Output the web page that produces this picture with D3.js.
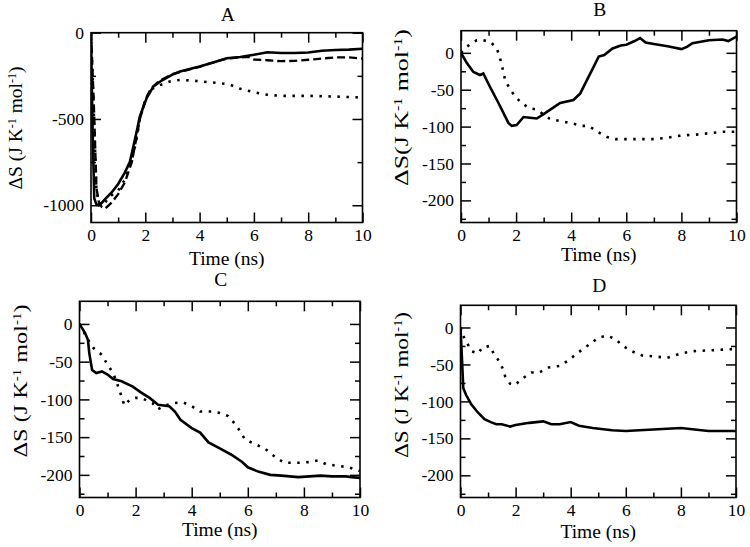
<!DOCTYPE html>
<html>
<head>
	<title>Entropy</title>
	<meta charset='utf-8'>
	<style>
		body {
			margin: 0;
			background: #fff;
		}

		svg {
			font-family: 'Liberation Serif', 'Times New Roman', serif;
		}

		.frame {
			fill: none;
			stroke: #000;
			stroke-width: 1.6px;
		}

		.tick > line {
			stroke: #000;
			stroke-width: 1.5px;
		}

		.tick > text {
			fill: #000;
			font-size: 17.5px;
		}

		.domain {
			display: none;
		}

		.line {
			fill: none;
			stroke: #000;
		}

		.solid {
			stroke-width: 2.6px;
		}

		.dashed {
			stroke-width: 2.4px;
			stroke-dasharray: 8, 4;
		}

		.dotted {
			stroke-width: 2.6px;
			stroke-dasharray: 2.5, 6.5;
		}

		.label {
			font-size: 19.5px;
		}
	</style>
</head>
<body>

<script src='https://cdnjs.cloudflare.com/ajax/libs/d3/7.8.5/d3.min.js'></script>
<script>
	'use strict';

	// [время (нс), ΔS]
	const aSolid = [[0, 0], [0.05, -500], [0.12, -960], [0.2, -995], [0.27, -1000], [0.4, -985], [0.52, -965],
		[0.76, -926], [1.0, -877], [1.25, -809], [1.43, -750], [1.56, -660], [1.7, -560], [1.8, -485], [2.05, -379],
		[2.3, -311], [2.6, -277], [3.0, -243], [3.28, -225], [3.6, -212], [4.0, -196], [4.5, -173], [5.0, -148],
		[5.5, -141], [6.0, -128], [6.5, -113], [7.0, -118], [7.5, -118], [8.0, -115], [8.5, -105], [9.0, -100],
		[9.5, -98], [10, -93]];
	const aDashed = [[0, 0], [0.1, -400], [0.2, -900], [0.3, -990], [0.4, -1010], [0.52, -1020], [0.76, -985],
		[1.0, -936], [1.25, -867], [1.5, -750], [1.62, -653], [1.8, -500], [2.0, -390], [2.2, -325], [2.5, -282],
		[3.0, -240], [3.5, -218], [4.0, -198], [4.5, -172], [5.0, -150], [5.5, -143], [5.8, -140], [6.0, -155],
		[6.5, -160], [7.0, -165], [7.5, -163], [8.0, -157], [8.5, -150], [9.0, -143], [9.5, -143], [10, -150]];
	const aDotted = [[0, 0], [0.1, -450], [0.2, -920], [0.3, -985], [0.45, -1005], [0.64, -955], [1.0, -916],
		[1.25, -850], [1.5, -740], [1.65, -640], [1.8, -500], [2.0, -390], [2.2, -330], [2.42, -311], [2.9, -283],
		[3.3, -273], [3.9, -280], [4.7, -292], [5.1, -300], [5.5, -325], [6.0, -345], [6.5, -360], [7.0, -366],
		[8.0, -366], [9.0, -370], [10, -376]];

	const bSolid = [[0, 0], [0.2, -13], [0.45, -26], [0.69, -30], [0.81, -28], [1.05, -46], [1.36, -68],
		[1.72, -95], [1.84, -99], [2.02, -98], [2.27, -87], [2.5, -88], [2.75, -89], [3.0, -83], [3.24, -77],
		[3.6, -68], [4.08, -64], [4.33, -55], [4.57, -37], [4.8, -20], [5.0, -5], [5.2, -3], [5.5, 6], [5.8, 10],
		[6.0, 11], [6.3, 16], [6.5, 20], [6.7, 14], [7.0, 12], [7.5, 9], [8.0, 5], [8.2, 8], [8.4, 13], [9.0, 17],
		[9.5, 18], [9.7, 16], [10, 22]];
	const bDotted = [[0, 0], [0.2, 8], [0.39, 13], [0.57, 17], [0.81, 17], [1.05, 15], [1.27, 8], [1.39, -3],
		[1.52, -23], [1.6, -37], [1.76, -48], [1.96, -59], [2.2, -68], [2.48, -75], [2.75, -77], [3.24, -90],
		[3.54, -92], [3.82, -94], [4.08, -96], [4.33, -99], [4.63, -99], [5.0, -108], [5.3, -114], [5.6, -117],
		[6.0, -117], [6.5, -117], [7.0, -117], [7.5, -115], [8.0, -112], [8.5, -111], [9.0, -109], [9.5, -107],
		[10, -107]];

	const cSolid = [[0, 0], [0.2, -12], [0.3, -21], [0.35, -39], [0.45, -61], [0.6, -65], [0.8, -63], [1.0, -67],
		[1.2, -73], [1.5, -76], [1.9, -83], [2.2, -91], [2.5, -98], [2.8, -107], [3.2, -109], [3.4, -116],
		[3.6, -127], [4.0, -138], [4.3, -144], [4.6, -157], [5.0, -165], [5.4, -173], [5.8, -183], [6.0, -190],
		[6.4, -196], [6.8, -200], [7.2, -201], [7.8, -203], [8.2, -202], [8.6, -201], [9.0, -202], [9.5, -202],
		[9.7, -203], [10, -204]];
	const cDotted = [[0, 0], [0.3, -21], [0.5, -32], [0.8, -41], [1.0, -54], [1.2, -65], [1.4, -85], [1.6, -108],
		[1.8, -100], [2.0, -98], [2.2, -98], [2.6, -105], [2.8, -113], [3.0, -109], [3.3, -105], [3.7, -104],
		[4.0, -109], [4.3, -116], [4.7, -116], [5.0, -118], [5.3, -122], [5.6, -135], [5.9, -153], [6.3, -160],
		[6.6, -165], [7.0, -177], [7.3, -184], [7.8, -184], [8.2, -183], [8.5, -181], [8.8, -186], [9.2, -188],
		[9.6, -190], [10, -195]];

	const dSolid = [[0, 0], [0.05, -40], [0.1, -82], [0.2, -91], [0.39, -104], [0.63, -115], [0.87, -124],
		[1.1, -128], [1.3, -131], [1.5, -131], [1.8, -134], [2.0, -132], [2.5, -129], [3.0, -127], [3.3, -131],
		[3.6, -131], [4.0, -128], [4.3, -133], [4.8, -136], [5.5, -139], [6.0, -140], [7.0, -138], [8.0, -136],
		[8.5, -138], [9.0, -140], [10, -140]];
	const dDotted = [[0, 0], [0.08, -10], [0.24, -21], [0.39, -32], [0.65, -35], [0.79, -27], [1.07, -25],
		[1.2, -35], [1.39, -45], [1.54, -56], [1.62, -66], [1.8, -76], [1.96, -78], [2.33, -67], [2.57, -61],
		[2.85, -61], [3.2, -54], [3.6, -52], [3.9, -45], [4.2, -36], [4.6, -25], [5.0, -14], [5.3, -11],
		[5.6, -15], [5.9, -25], [6.2, -32], [6.6, -38], [7.0, -39], [7.5, -41], [8.0, -35], [8.5, -32],
		[9.0, -31], [9.5, -30], [10, -29]];

	const titles = ['A', 'B', 'C', 'D'];
	const xTicks = [0, 2, 4, 6, 8, 10];
	const xMinor = [1, 3, 5, 7, 9];
	const yTicksA = [0, -500, -1000];
	const yMinorA = [-250, -750];
	const yTicks = [0, -50, -100, -150, -200];
	const yMinor = [-25, -75, -125, -175, -225];

	const panels = [
		{title: titles[0], left: 91, top: 32.7, right: 362.5, bottom: 222.5, domain: [-1100, 0],
			ticks: yTicksA, minor: yMinorA, series: [[aSolid, 'solid'], [aDashed, 'dashed'], [aDotted, 'dotted']],
			titleY: 20.5, xLabelY: 265, yLabelX: 22, yLabelY: 128, yLabelLen: 123, ds: 'ΔS ('},
		{title: titles[1], left: 461, top: 30.7, right: 736.5, bottom: 222.5, domain: [-230, 30],
			ticks: yTicks, minor: yMinor, series: [[bSolid, 'solid'], [bDotted, 'dotted']],
			titleY: 16, xLabelY: 261, yLabelX: 408, yLabelY: 107.5, yLabelLen: 157, ds: 'ΔS('},
		{title: titles[2], left: 79.5, top: 301.3, right: 360, bottom: 497.5, domain: [-230, 30],
			ticks: yTicks, minor: yMinor, series: [[cSolid, 'solid'], [cDotted, 'dotted']],
			titleY: 285.5, xLabelY: 536, yLabelX: 27, yLabelY: 381, yLabelLen: 153, ds: 'ΔS ('},
		{title: titles[3], left: 460.5, top: 305.3, right: 736, bottom: 497.5, domain: [-230, 30],
			ticks: yTicks, minor: yMinor, series: [[dSolid, 'solid'], [dDotted, 'dotted']],
			titleY: 291.5, xLabelY: 538, yLabelX: 408, yLabelY: 385, yLabelLen: 146, ds: 'ΔS ('}
	];

	const svg = d3.select('body').append('svg')
		.attr('width', 750)
		.attr('height', 547);

	const fmt = function(d) {return String(d);};

	// ось без шрифта d3 по умолчанию
	function addAxis(g, axis, tx, ty) {
		g.append('g')
			.attr('transform', 'translate(' + tx + ',' + ty + ')')
			.call(axis)
			.attr('font-family', null)
			.attr('font-size', null);
	}

	panels.forEach(function(p) {
		const x = d3.scaleLinear().domain([0, 10]).range([p.left, p.right]);
		const y = d3.scaleLinear().domain(p.domain).range([p.bottom, p.top]);
		const g = svg.append('g');

		const line = d3.line()
			.x(function(d) {return x(d[0]);})
			.y(function(d) {return y(d[1]);});

		// обрезаем линии по рамке
		const clipId = 'clip-' + p.title;
		g.append('clipPath').attr('id', clipId)
			.append('rect')
			.attr('x', p.left).attr('y', p.top)
			.attr('width', p.right - p.left).attr('height', p.bottom - p.top);

		// точечные и штриховые снизу, сплошная сверху
		p.series.slice().reverse().forEach(function(s) {
			g.append('path')
				.datum(s[0])
				.attr('class', 'line ' + s[1])
				.attr('clip-path', 'url(#' + clipId + ')')
				.attr('d', line);
		});

		// засечки внутрь, на всех четырёх сторонах
		addAxis(g, d3.axisBottom(x).tickValues(xTicks).tickSize(-10).tickPadding(6).tickFormat(fmt), 0, p.bottom);
		addAxis(g, d3.axisBottom(x).tickValues(xMinor).tickSize(-5).tickFormat(''), 0, p.bottom);
		addAxis(g, d3.axisTop(x).tickValues(xTicks).tickSize(-10).tickFormat(''), 0, p.top);
		addAxis(g, d3.axisTop(x).tickValues(xMinor).tickSize(-5).tickFormat(''), 0, p.top);

		addAxis(g, d3.axisLeft(y).tickValues(p.ticks).tickSize(-10).tickPadding(7).tickFormat(fmt), p.left, 0);
		addAxis(g, d3.axisLeft(y).tickValues(p.minor).tickSize(-5).tickFormat(''), p.left, 0);
		addAxis(g, d3.axisRight(y).tickValues(p.ticks).tickSize(-10).tickFormat(''), p.right, 0);
		addAxis(g, d3.axisRight(y).tickValues(p.minor).tickSize(-5).tickFormat(''), p.right, 0);

		g.append('rect')
			.attr('class', 'frame')
			.attr('x', p.left).attr('y', p.top)
			.attr('width', p.right - p.left).attr('height', p.bottom - p.top);

		const cx = (p.left + p.right) / 2;

		g.append('text')
			.attr('class', 'label')
			.attr('x', cx + 1)
			.attr('y', p.titleY)
			.attr('text-anchor', 'middle')
			.text(p.title);

		g.append('text')
			.attr('class', 'label')
			.attr('x', cx)
			.attr('y', p.xLabelY)
			.attr('text-anchor', 'middle')
			.text('Time (ns)');

		const yl = g.append('text')
			.attr('class', 'label')
			.attr('text-anchor', 'middle')
			.attr('textLength', p.yLabelLen)
			.attr('lengthAdjust', 'spacingAndGlyphs')
			.attr('transform', 'translate(' + p.yLabelX + ',' + p.yLabelY + ') rotate(-90)');
		yl.append('tspan').text(p.ds + 'J K');
		yl.append('tspan').attr('dy', '-0.5em').attr('font-size', '0.62em').text('-1');
		yl.append('tspan').attr('dy', '0.31em').text(' mol');
		yl.append('tspan').attr('dy', '-0.5em').attr('font-size', '0.62em').text('-1');
		yl.append('tspan').attr('dy', '0.31em').text(')');
	});
</script>
</body>
</html>
